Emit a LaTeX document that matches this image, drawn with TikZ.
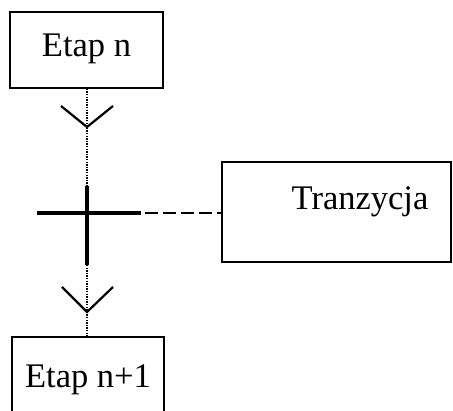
\documentclass[tikz,border=0pt]{standalone}
\usepackage{fontspec}
\setmainfont{Liberation Serif}
\begin{document}
\begin{tikzpicture}[x=1pt,y=-1pt,
  stepbox/.style={draw,line width=1.6pt,rectangle,inner sep=0pt},
  link/.style={line width=1.8pt,dash pattern=on 1.4pt off 1.2pt},
  bar/.style={line width=3.2pt},
  chev/.style={line width=2.2pt,line join=miter},
  guard/.style={line width=1.6pt,dash pattern=on 13pt off 5pt},
  lbl/.style={font=\fontsize{34.5}{40}\selectfont,inner sep=0pt,anchor=base}]
\useasboundingbox (0,0) rectangle (453,411);
\clip (0,0) rectangle (453,411);

% steps
\node[stepbox,minimum width=153pt,minimum height=76pt] (s1) at (86.5,50) {};
\node[lbl] (t1) at (86.5,57) {Etap n};
\node[stepbox,minimum width=152pt,minimum height=86pt] (s2) at (88,380) {};
\node[lbl] (t2) at (88,388) {Etap n+1};

% transition condition box
\node[stepbox,minimum width=229pt,minimum height=100pt] (tr) at (336.5,212) {};
\node[lbl] (t3) at (360,210) {Tranzycja};

% transition bar
\coordinate (vt) at (87,186);
\coordinate (vb) at (87,265);
\coordinate (hl) at (37,213);
\coordinate (hr) at (141,213);
\coordinate (dl) at (145,213);
\draw[bar] (vt) -- (vb);
\draw[bar] (hl) -- (hr);
\draw[guard] (dl) -- (tr.west |- dl);

% flow links
\draw[link] (s1.south -| vt) -- (vt);
\draw[link] (vb) -- (s2.north -| vb);

% direction marks
\coordinate (a1) at (87,127);
\coordinate (a2) at (87,312);
\draw[chev] ([xshift=-26pt,yshift=21pt]a1) -- (a1) -- ([xshift=26pt,yshift=21pt]a1);
\draw[chev] ([xshift=-25pt,yshift=25pt]a2) -- (a2) -- ([xshift=26pt,yshift=25pt]a2);
\end{tikzpicture}
\end{document}
